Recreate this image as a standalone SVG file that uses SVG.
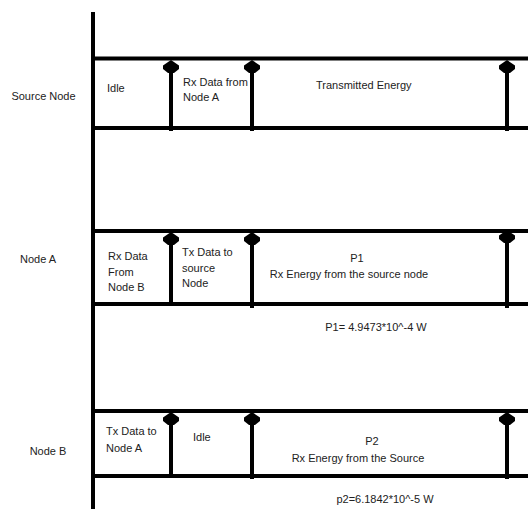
<svg xmlns="http://www.w3.org/2000/svg" xmlns:xlink="http://www.w3.org/1999/xlink" width="528" height="509" viewBox="0 0 528 509">
  <style>
    .ln { stroke: #000; stroke-width: 4; fill: none; }
    .sh { stroke: #000; stroke-width: 4; fill: none; }
    text { font-family: "Liberation Sans", Arial, sans-serif; font-size: 11px; fill: #222; }
    .c { text-anchor: middle; }
  </style>
  <defs>
    <path id="ah" d="M0,0 L8,5.5 L8,9 L3,13 L-3,13 L-8,9 L-8,5.5 Z" fill="#000"/>
  </defs>
  <rect width="528" height="509" fill="#fff"/>

  <g id="source-node">
    <line class="ln" x1="93" y1="58.5" x2="528" y2="58.5"/>
    <line class="ln" x1="93" y1="128" x2="528" y2="128"/>
    <text x="43.5" y="100" class="c">Source Node</text>
    <text x="107" y="92">Idle</text>
    <text x="183" y="86">Rx Data from</text>
    <text x="183" y="101">Node A</text>
    <text x="316" y="89">Transmitted Energy</text>
  </g>

  <g id="node-a">
    <line class="ln" x1="93" y1="231" x2="528" y2="231"/>
    <line class="ln" x1="93" y1="304" x2="528" y2="304"/>
    <text x="38" y="263" class="c">Node A</text>
    <text x="108" y="260">Rx Data</text>
    <text x="108" y="276">From</text>
    <text x="108" y="291">Node B</text>
    <text x="182" y="256">Tx Data to</text>
    <text x="182" y="272">source</text>
    <text x="182" y="287">Node</text>
    <text x="357" y="262" class="c">P1</text>
    <text x="349" y="278" class="c">Rx Energy from the source node</text>
    <text x="376" y="331" class="c">P1= 4.9473*10^-4 W</text>
  </g>

  <g id="node-b">
    <line class="ln" x1="93" y1="411" x2="528" y2="411"/>
    <line class="ln" x1="93" y1="476" x2="528" y2="476"/>
    <text x="48" y="455" class="c">Node B</text>
    <text x="106" y="435">Tx Data to</text>
    <text x="106" y="452">Node A</text>
    <text x="193" y="441">Idle</text>
    <text x="372" y="445" class="c">P2</text>
    <text x="358" y="462" class="c">Rx Energy from the Source</text>
    <text x="385" y="503" class="c">p2=6.1842*10^-5 W</text>
  </g>

  <g id="connectors">
    <line class="sh" x1="93" y1="12" x2="93" y2="509"/>
    <!-- source row arrows -->
    <line class="sh" x1="171" y1="131" x2="171" y2="71"/>
    <use xlink:href="#ah" x="171" y="60"/>
    <line class="sh" x1="252" y1="131" x2="252" y2="71"/>
    <use xlink:href="#ah" x="252" y="60"/>
    <line class="sh" x1="507" y1="131" x2="507" y2="71"/>
    <use xlink:href="#ah" x="507" y="60"/>
    <!-- node A arrows -->
    <line class="sh" x1="171" y1="305" x2="171" y2="243"/>
    <use xlink:href="#ah" x="171" y="232"/>
    <line class="sh" x1="252" y1="308" x2="252" y2="243"/>
    <use xlink:href="#ah" x="252" y="232"/>
    <line class="sh" x1="507" y1="308" x2="507" y2="241"/>
    <use xlink:href="#ah" x="507" y="230"/>
    <!-- node B arrows -->
    <line class="sh" x1="171" y1="476" x2="171" y2="423"/>
    <use xlink:href="#ah" x="171" y="412"/>
    <line class="sh" x1="252" y1="479" x2="252" y2="423"/>
    <use xlink:href="#ah" x="252" y="412"/>
    <line class="sh" x1="507" y1="479" x2="507" y2="423"/>
    <use xlink:href="#ah" x="507" y="412"/>
  </g>
</svg>
